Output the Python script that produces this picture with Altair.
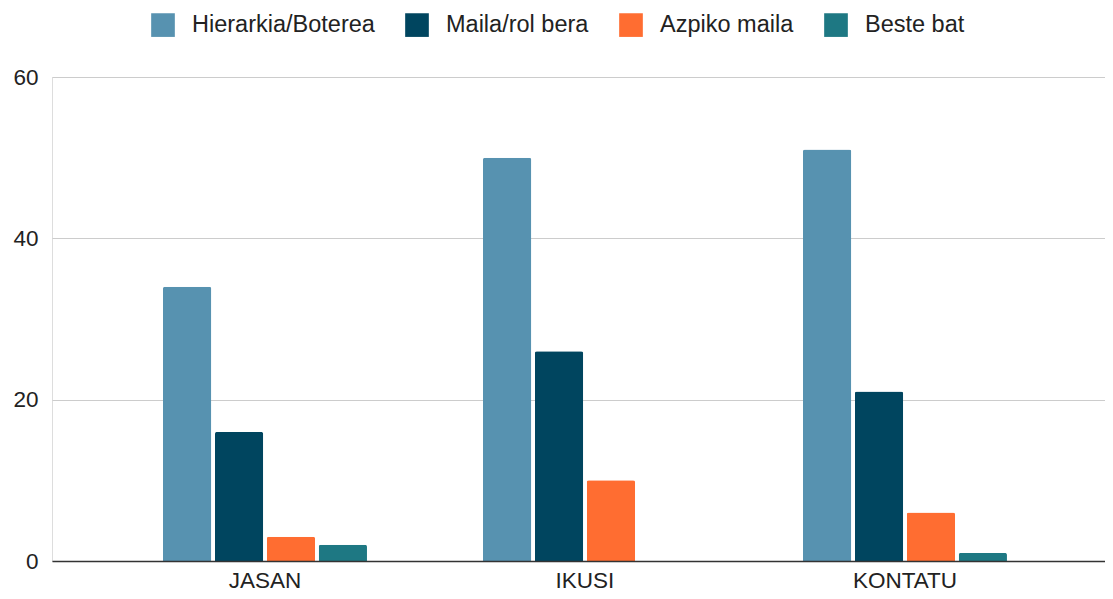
import altair as alt
import pandas as pd

categories = ["JASAN", "IKUSI", "KONTATU"]
series = ["Hierarkia/Boterea", "Maila/rol bera", "Azpiko maila", "Beste bat"]
hierarkia = [34, 50, 51]
maila_rol = [16, 26, 21]
azpiko = [3, 10, 6]
beste = [2, 0, 1]
colors = ["#5792b0", "#00455f", "#ff6d31", "#1e7883"]
y_ticks = [0, 20, 40, 60]

rows = []
for i, c in enumerate(categories):
    for s, vals in zip(series, [hierarkia, maila_rol, azpiko, beste]):
        rows.append({"cat": c, "series": s, "value": vals[i]})
df = pd.DataFrame(rows)

FONT = "Liberation Sans"

bars = alt.Chart(df).mark_bar(cornerRadiusTopLeft=2, cornerRadiusTopRight=2).encode(
    x=alt.X("cat:N", sort=categories, title=None,
            scale=alt.Scale(paddingInner=0.3625, paddingOuter=0.3266, align=0.531),
            axis=alt.Axis(labelAngle=0, ticks=False, domain=True, domainColor="#333333",
                          domainWidth=1.5, labelFontSize=22.5, labelColor="#222222",
                          labelFont=FONT, labelPadding=8, grid=False, zindex=1)),
    xOffset=alt.XOffset("series:N", sort=series,
                        scale=alt.Scale(paddingInner=0.07, paddingOuter=0)),
    y=alt.Y("value:Q", title=None,
            scale=alt.Scale(domain=[0, 60], nice=False),
            axis=alt.Axis(values=y_ticks, ticks=False, domain=False, gridColor="#cccccc",
                          gridWidth=1.2, labelFontSize=22.5, labelColor="#222222",
                          labelFont=FONT, labelPadding=14)),
    color=alt.Color("series:N", sort=series,
                    scale=alt.Scale(domain=series, range=colors),
                    legend=alt.Legend(title=None, orient="none", direction="horizontal",
                                      legendX=99, legendY=-64, symbolType="square",
                                      symbolSize=560, symbolStrokeWidth=0, symbolOpacity=1,
                                      labelFontSize=23.5, labelColor="#222222", labelFont=FONT,
                                      labelLimit=400, labelOffset=17, columnPadding=30,
                                      padding=0)),
)

chart = bars.properties(
    width=1053, height=484,
    padding={"left": 44, "top": 69, "right": 0, "bottom": 30},
    autosize="none",
).configure_view(stroke=None).configure(background="white")

chart.save("out.html", embed_options={"renderer": "svg", "actions": False})
